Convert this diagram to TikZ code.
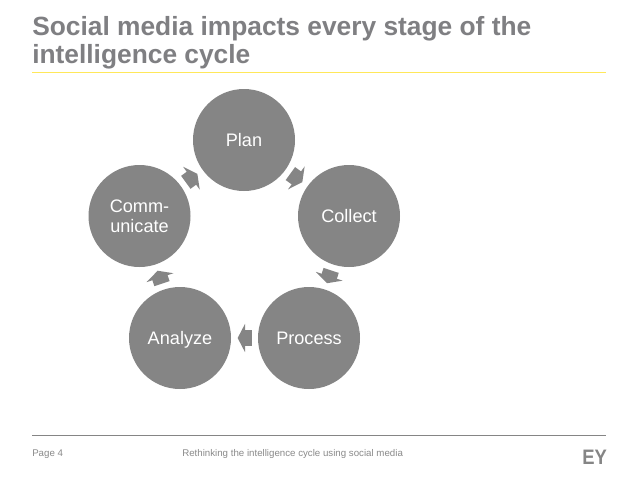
\documentclass[tikz,border=0pt]{standalone}
\usepackage{graphicx}
\usepackage{fontspec}
\setmainfont{Liberation Sans}
\usetikzlibrary{arrows.meta}
\definecolor{eygrey}{HTML}{858585}
\definecolor{eytext}{HTML}{7F7F82}
\definecolor{eyyellow}{HTML}{FFE85A}
\definecolor{eyfoot}{HTML}{8A8A8A}
\tikzset{
  stage/.style={circle,fill=eygrey,draw=none,minimum size=76.5pt,inner sep=0pt,text=white,align=center,font=\fontsize{13.6}{14.8}\selectfont},
  single/.style={stage,text height=9.8pt,text depth=0pt},
  flow/.style={draw=eygrey,line width=12pt,-{Triangle[length=5.5pt,width=21pt,fill=eygrey]},shorten <=4.5pt,shorten >=4.8pt},
  foot/.style={text=eyfoot,font=\fontsize{7.28}{9}\selectfont,anchor=west,inner sep=0pt},
}
\begin{document}
\begin{tikzpicture}[x=0.75pt,y=-0.75pt]
\useasboundingbox (0,0) rectangle (638,479);
\fill[white] (0,0) rectangle (638,479);
\node[anchor=north west,inner sep=0pt,text=eytext,align=left,font=\fontsize{19.75}{20.5}\bfseries\selectfont] (title) at (32,16.5) {Social media impacts every stage of the\\intelligence cycle};
\coordinate (yl) at (32,72.5); \coordinate (yr) at (606,72.5);
\draw[eyyellow,line width=1.4pt] (yl) -- (yr);
\node[single] (plan) at (244,140) {Plan};
\node[single] (collect) at (349,216) {Collect};
\node[single] (process) at (309,338) {Process};
\node[single] (analyze) at (180,338) {Analyze};
\node[stage] (comm) at (139.5,216) {Comm-\\unicate};
\draw[flow] (plan) -- (collect);
\draw[flow] (collect) -- (process);
\draw[flow] (process) -- (analyze);
\draw[flow] (analyze) -- (comm);
\draw[flow] (comm) -- (plan);
\coordinate (fl) at (32,435); \coordinate (fr) at (606,435);
\draw[eygrey,line width=0.7pt] (fl) -- (fr);
\node[foot] (page) at (32,454) {Page 4};
\node[foot] (foot) at (182,454) {Rethinking the intelligence cycle using social media};
\node[anchor=west,inner sep=0pt,text=eygrey,font=\fontsize{15.7}{16}\bfseries\selectfont] (ey) at (582,457.5) {\scalebox{0.88}[1]{EY}};
\end{tikzpicture}
\end{document}
